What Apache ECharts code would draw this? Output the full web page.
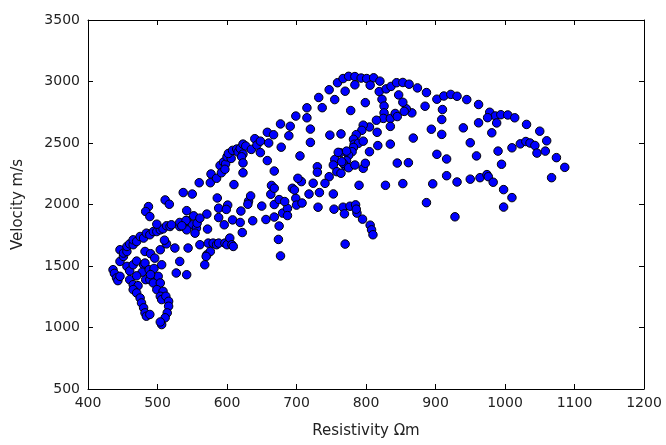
<!DOCTYPE html>
<html>
<head>
<meta charset="utf-8">
<script src="https://cdn.jsdelivr.net/npm/echarts@6/dist/echarts.min.js"></script>
<style>html,body{margin:0;padding:0;background:#fff}#chart{width:666px;height:445px}</style>
</head>
<body>
<div id="chart"></div>
<script>
const xTitle = 'Resistivity Ωm';
const yTitle = 'Velocity m/s';
const xRange = [400, 1200, 100];
const yRange = [500, 3500, 500];

const resistivity = [
436,438,441,443,446,446,451,451,456,456,460,465,465,470,475,480,484,489,494,499,
504,508,513,518,520,532,532,542,542,550,556,446,456,460,465,470,480,482,482,490,
496,499,504,506,513,510,525,532,527,542,544,542,554,561,568,571,573,576,570,580,
585,588,597,600,604,607,609,460,465,472,483,489,494,501,504,499,508,504,465,470,
475,477,480,482,484,489,506,512,516,516,514,511,506,504,478,488,495,470,490,
487,483,489,511,517,542,552,557,541,535,571,561,572,588,588,596,601,599,608,619,
620,622,631,630,634,637,650,656,668,668,675,674,677,680,687,687,675,663,699,700,
708,683,718,733,731,753,754,767,769,777,785,787,786,795,806,808,810,770,887,928,
998,1010,998,
537,550,560,576,577,585,586,590,592,595,598,597,600,606,602,608,614,616,619,623,
627,635,623,621,623,623,640,643,648,648,658,667,660,677,678,658,668,610,664,668,
689,691,699,715,715,720,720,705,732,737,747,755,759,770,767,775,784,784,793,801,
811,820,806,819,829,836,844,853,862,874,887,902,912,922,931,945,962,978,986,994,
1004,1014,1031,1050,1060,1074,1086,1067,975,988,962,981,950,959,940,910,909,909,894,885,
866,858,868,902,916,916,931,950,964,974,976,983,896,861,853,990,1010,1022,1030,1036,
1043,1046,1058,995,847,853,823,826,826,825,835,842,855,845,835,805,815,796,794,786,
782,783,789,782,780,775,772,770,764,748,816,817,796,763,755,767,775,805,835,845,
772,760,765,753,758,778,799,784,796,799,730,730,747,741,764,694,707,724,702,697,
790,828
];

const velocity = [
1470,1440,1403,1381,1537,1632,1578,1605,1618,1659,1680,1673,1713,1699,1740,1727,1767,1754,1780,1780,
1794,1802,1827,1821,1835,1821,1854,1808,1870,1835,1808,1416,1497,1460,1510,1540,1510,1524,1618,1600,
1564,1840,1632,1510,1680,1710,1646,1537,1443,1429,1646,1794,1767,1673,1510,1591,1686,1618,1578,1686,
1673,1686,1686,1673,1727,1673,1659,1389,1348,1340,1389,1389,1362,1416,1362,1308,1294,1254,1308,1281,
1240,1200,1160,1119,1092,1106,1227,1254,1213,1173,1119,1079,1024,1045,1450,1470,1480,1420,1430,
1983,1943,1902,2037,2002,1950,1908,1848,1870,1827,1922,1889,1800,1970,1894,1835,1995,1960,1875,1854,
1947,1772,2027,2002,2070,1868,1987,1878,2000,1898,1825,1716,1582,1930,1968,1910,2040,2083,2050,1995,
2012,2024,2085,2097,1978,2086,1962,1978,1924,1986,1997,1930,1962,1881,1832,1794,1754,1678,2015,1900,
1979,2056,2121,
2097,2085,2177,2177,2248,2213,2053,2317,2258,2345,2330,2286,2388,2375,2415,2440,2451,2426,2456,2491,
2475,2448,2410,2388,2338,2258,2535,2483,2515,2422,2587,2567,2500,2655,2466,2357,2272,2162,2155,2132,
2559,2636,2719,2786,2705,2613,2505,2395,2870,2787,2933,2853,2990,2921,3024,3042,3040,2973,3028,3024,
3030,3003,2970,2918,2940,2960,2990,2992,2978,2948,2910,2856,2882,2895,2880,2853,2813,2750,2720,2730,
2728,2705,2651,2596,2518,2381,2302,2218,2706,2663,2664,2583,2502,2395,2623,2772,2691,2570,2612,2799,
2745,2778,2540,2408,2370,2234,2183,2206,2218,2243,2226,2181,2168,2340,2170,2434,2461,2493,2512,2500,
2480,2418,2434,2327,2891,2831,2855,2800,2745,2700,2699,2740,2757,2715,2635,2630,2685,2645,2603,2568,
2530,2490,2497,2464,2429,2400,2356,2315,2574,2564,2587,2479,2515,2421,2365,2335,2299,2429,2491,2337,
2434,2424,2348,2321,2267,2764,2828,2321,2294,2335,2307,2262,2226,2172,2254,2132,2186,2173,2213,2118,
2156,2156
];

const points = resistivity.map((x, i) => [x, velocity[i]]);

const chart = echarts.init(document.getElementById('chart'), null, {renderer: 'canvas'});
const font = 'DejaVu Sans';
const plain = v => String(v);
const axisLine = {show: true, onZero: false, lineStyle: {color: '#000', width: 1}};
const tick = {show: true, inside: true, length: 5, lineStyle: {color: '#000', width: 1}};
chart.setOption({
  animation: false,
  backgroundColor: '#fff',
  textStyle: {fontFamily: font},
  grid: {left: 88, right: 22, top: 20, bottom: 56, outerBoundsMode: 'none'},
  xAxis: [
    {type: 'value', position: 'bottom', min: xRange[0], max: xRange[1], interval: xRange[2],
     name: xTitle, nameLocation: 'middle', nameGap: 35,
     nameTextStyle: {fontFamily: font, fontSize: 15, color: '#222'},
     axisLine: axisLine, axisTick: tick, splitLine: {show: false},
     axisLabel: {fontFamily: font, fontSize: 14, color: '#222', margin: 7, formatter: plain}},
    {type: 'value', position: 'top', min: xRange[0], max: xRange[1], interval: xRange[2],
     axisLine: axisLine, axisTick: tick, splitLine: {show: false}, axisLabel: {show: false}}
  ],
  yAxis: [
    {type: 'value', position: 'left', min: yRange[0], max: yRange[1], interval: yRange[2],
     name: yTitle, nameLocation: 'middle', nameGap: 62,
     nameTextStyle: {fontFamily: font, fontSize: 15, color: '#222'},
     axisLine: axisLine, axisTick: tick, splitLine: {show: false},
     axisLabel: {fontFamily: font, fontSize: 14, color: '#222', margin: 8, formatter: plain}},
    {type: 'value', position: 'right', min: yRange[0], max: yRange[1], interval: yRange[2],
     axisLine: axisLine, axisTick: tick, splitLine: {show: false}, axisLabel: {show: false}}
  ],
  series: [{
    type: 'scatter',
    xAxisIndex: 0, yAxisIndex: 0,
    data: points,
    symbol: 'circle',
    symbolSize: 8.5,
    itemStyle: {color: '#0000ff', borderColor: '#000', borderWidth: 1, opacity: 1}
  }]
});
</script>
</body>
</html>
